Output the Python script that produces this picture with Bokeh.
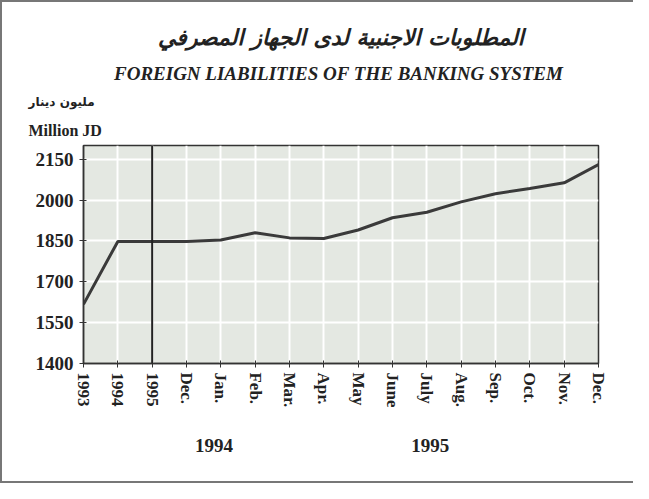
from bokeh.plotting import figure
from bokeh.models import Span, FixedTicker, Range1d, Title, LinearAxis
from bokeh.embed import file_html
from bokeh.resources import INLINE

categories = ["1993", "1994", "1995", "Dec.", "Jan.", "Feb.", "Mar.", "Apr.", "May",
              "June", "July", "Aug.", "Sep.", "Oct.", "Nov.", "Dec."]
values = [1617, 1848, 1848, 1848, 1853, 1880, 1861, 1859, 1890,
          1935, 1955, 1993, 2023, 2042, 2063, 2130]
y_ticks = [1400, 1550, 1700, 1850, 2000, 2150]
group_labels = ["1994", "1995"]
group_positions = [3.8, 10.1]

xs = list(range(len(categories)))

W, H = 633, 483
ML, MB = 81, 122
p = figure(width=W, height=H, output_backend="svg", toolbar_location=None,
           x_range=Range1d(0, len(categories) - 1), y_range=Range1d(1400, 2200),
           min_border_left=ML, min_border_right=37, min_border_top=143, min_border_bottom=MB)
p.styles = {"border-left": "2px solid #777", "border-top": "2px solid #777",
            "border-bottom": "2px solid #777", "box-sizing": "border-box"}
p.border_fill_color = "white"
p.outline_line_color = "#333333"
p.outline_line_width = 1.5
p.background_fill_color = "#e4e8e2"

p.line(xs, values, line_color="#3a3a3a", line_width=3)
p.add_layout(Span(location=2, dimension="height", line_color="#222222", line_width=2))

serif = "Liberation Serif"
p.xaxis.ticker = FixedTicker(ticks=xs)
p.xaxis.major_label_overrides = {i: c for i, c in enumerate(categories)}
p.xaxis.major_label_orientation = "vertical"
p.yaxis.ticker = FixedTicker(ticks=y_ticks)
for ax in (p.xaxis, p.yaxis):
    ax.major_label_text_font = serif
    ax.major_label_text_font_style = "bold"
    ax.major_label_text_color = "#222222"
    ax.axis_line_color = "#333333"
    ax.axis_line_width = 1.5
    ax.major_tick_line_color = "#333333"
    ax.major_tick_in = 3
    ax.major_tick_out = 4
    ax.minor_tick_line_color = None
p.xaxis.major_label_text_font_size = "17px"
p.yaxis.major_label_text_font_size = "19px"
p.xaxis.major_label_standoff = 5
p.yaxis.major_label_standoff = 6

# group (year) labels as a second, line-less axis below
gaxis = LinearAxis(ticker=FixedTicker(ticks=group_positions),
                   major_label_overrides={pos: t for pos, t in zip(group_positions, group_labels)},
                   axis_line_color=None, major_tick_line_color=None, minor_tick_line_color=None,
                   major_label_text_font=serif, major_label_text_font_style="bold",
                   major_label_text_font_size="19px", major_label_text_color="#222222",
                   major_label_standoff=22)
p.add_layout(gaxis, "below")

p.xgrid.ticker = FixedTicker(ticks=xs)
p.ygrid.ticker = FixedTicker(ticks=y_ticks)
p.grid.grid_line_color = "white"
p.grid.grid_line_width = 2

def title(text, size, style, align, standoff, font=serif, offset=0):
    p.add_layout(Title(text=text, text_font=font, text_font_size=size, text_font_style=style,
                       text_color="#222222", align=align, standoff=standoff, offset=offset), "above")

# added from nearest-to-frame outward
title("Million JD", "16px", "bold", "left", 13, offset=-55)
title("مليون دينار", "12px", "bold", "left", 9, "DejaVu Sans", offset=-55)
title("FOREIGN LIABILITIES OF THE  BANKING SYSTEM", "19px", "bold italic", "center", 10, offset=0)
title("المطلوبات الاجنبية لدى الجهاز المصرفي", "22px", "bold italic", "center", 12, "DejaVu Sans", offset=0)

open("out.html", "w").write(file_html(p, INLINE))
